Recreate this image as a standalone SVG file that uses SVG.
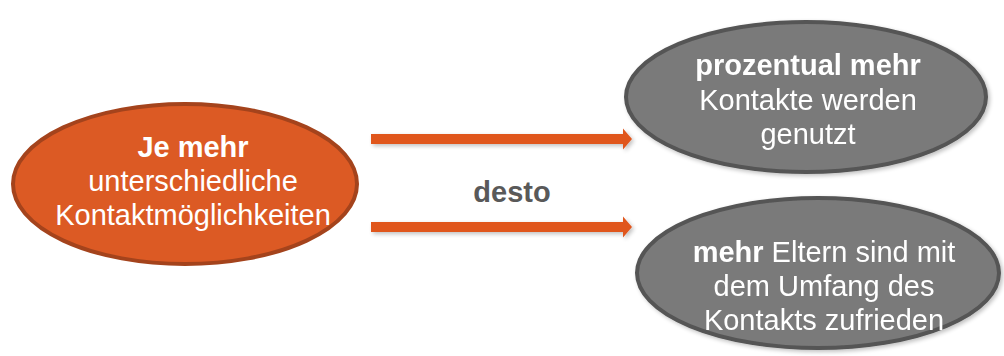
<svg xmlns="http://www.w3.org/2000/svg" width="1004" height="356" viewBox="0 0 1004 356">
  <defs>
    <filter id="shadow" x="-10%" y="-30%" width="120%" height="160%">
      <feGaussianBlur in="SourceAlpha" stdDeviation="2"/>
      <feOffset dx="2" dy="2" result="b"/>
      <feComponentTransfer><feFuncA type="linear" slope="0.25"/></feComponentTransfer>
      <feMerge><feMergeNode/><feMergeNode in="SourceGraphic"/></feMerge>
    </filter>
  </defs>
  <style>
    .orange { fill: #DC5A24; stroke: #A4431C; stroke-width: 4; }
    .gray { fill: #7A7A7A; stroke: #555555; stroke-width: 4; }
    .t { font-family: "Liberation Sans", Arial, sans-serif; font-size: 29px; fill: #FFFFFF; text-anchor: middle; }
    .b { font-weight: bold; }
    .desto { font-family: "Liberation Sans", Arial, sans-serif; font-size: 29px; font-weight: bold; fill: #595959; text-anchor: middle; }
    .arrow { fill: #E0561E; }
  </style>
  <rect width="1004" height="356" fill="#FFFFFF"/>

  <g id="connectors" filter="url(#shadow)">
    <polygon class="arrow" points="371,134 623,134 623,128.5 632,139 623,149.5 623,144 371,144"/>
    <polygon class="arrow" points="371,222 623,222 623,216.5 632,227 623,237.5 623,232 371,232"/>
  </g>

  <g id="label-desto">
    <text class="desto" x="512" y="202">desto</text>
  </g>

  <g id="node-source">
    <ellipse class="orange" cx="185" cy="184" rx="172" ry="80"/>
    <text class="t" x="193" y="157"><tspan class="b">Je mehr</tspan></text>
    <text class="t" x="193" y="191">unterschiedliche</text>
    <text class="t" x="193" y="225">Kontaktmöglichkeiten</text>
  </g>

  <g id="node-top" filter="url(#shadow)">
    <ellipse class="gray" cx="806" cy="97" rx="180" ry="75"/>
    <text class="t" x="808" y="75"><tspan class="b">prozentual mehr</tspan></text>
    <text class="t" x="808" y="110">Kontakte werden</text>
    <text class="t" x="808" y="144">genutzt</text>
  </g>

  <g id="node-bottom" filter="url(#shadow)">
    <ellipse class="gray" cx="818" cy="273" rx="181" ry="75"/>
    <text class="t" x="824" y="262"><tspan class="b">mehr</tspan> Eltern sind mit</text>
    <text class="t" x="824" y="296">dem Umfang des</text>
    <text class="t" x="824" y="330">Kontakts zufrieden</text>
  </g>
</svg>
